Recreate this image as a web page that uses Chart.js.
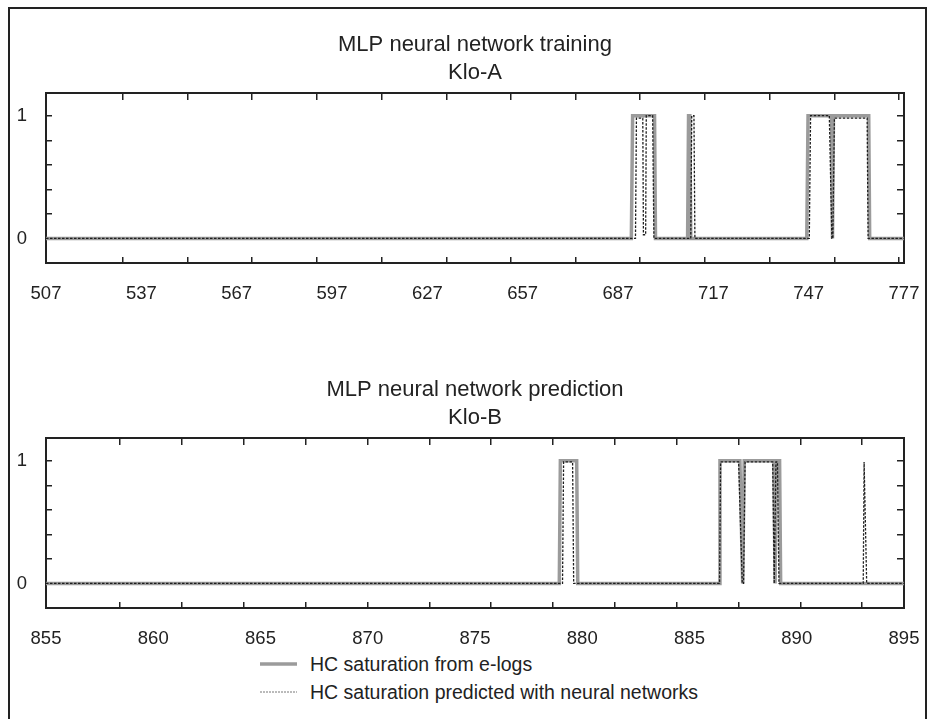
<!DOCTYPE html>
<html>
<head>
<meta charset="utf-8">
<script src="https://cdn.jsdelivr.net/npm/chart.js@4.4.1/dist/chart.umd.min.js"></script>
<style>
  html, body { margin: 0; padding: 0; background: #fff; }
  #wrap { position: relative; width: 936px; height: 719px; overflow: hidden; background: #fff; }
  #frame { position: absolute; left: 8px; top: 7px; width: 919px; height: 800px; border: 2px solid #222; box-sizing: border-box; }
  canvas { position: absolute; left: 0; }
  #c1 { top: 0; }
  #c2 { top: 345px; }
  .row { position: absolute; left: 260px; height: 28px; display: flex; align-items: center;
         font-family: 'Liberation Sans', Arial, Helvetica, sans-serif; font-size: 19.5px; color: #222; white-space: nowrap; }
  .row svg { margin-right: 13px; }
</style>
</head>
<body>
<div id="wrap">
  <div id="frame"></div>
  <canvas id="c1" width="936" height="300"></canvas>
  <canvas id="c2" width="936" height="300"></canvas>
  <div class="row" style="top:650px;">
    <svg width="37" height="6"><line x1="0" y1="3" x2="37" y2="3" stroke="#9b9b9b" stroke-width="3.5"/></svg>
    <span>HC saturation from e-logs</span>
  </div>
  <div class="row" style="top:678px;">
    <svg width="37" height="6"><line x1="0" y1="3" x2="37" y2="3" stroke="#777" stroke-width="1" stroke-dasharray="2,1"/></svg>
    <span>HC saturation predicted with neural networks</span>
  </div>
</div>
<script>
// ---------- data ----------
const legendLabels = ['HC saturation from e-logs', 'HC saturation predicted with neural networks'];

const titleTrain = ['MLP neural network training', 'Klo-A'];
const titlePred  = ['MLP neural network prediction', 'Klo-B'];

const yRange = [-0.2, 1.185];
const yLabelTicks = [0, 1];
const yMinorTicks = [0, 0.2, 0.4, 0.6, 0.8, 1];

// Training well (Klo-A)
const trainRange = [507, 777];
const trainXLabels = [507, 537, 567, 597, 627, 657, 687, 717, 747, 777];
const trainXTickMarks = [531.2, 551.6, 571.9, 592.3, 612.6, 633.0, 653.3, 673.7, 694.0, 714.4, 734.7, 755.1, 775.4];
const trainLogX = [507, 691.2, 691.6, 698.5, 698.8, 708.9, 709.2, 709.6, 709.9, 746.4, 746.8, 754.2, 754.5, 754.8, 765.9, 766.2, 777];
const trainLogY = [0, 0, 1, 1, 0, 0, 1, 1, 0, 0, 1, 1, 0, 1, 1, 0, 0];
const trainNnX = [507, 692.5, 692.8, 694.8, 695.0, 695.7, 695.9, 697.9, 698.3, 709.9, 710.2, 710.9, 711.2, 747.2, 747.6, 753.5, 754.3, 754.6, 755.1, 765.4, 765.7, 777];
const trainNnY = [0, 0, 0.98, 0.98, 0.03, 0.03, 1, 1, 0, 0, 1, 1, 0, 0, 1, 1, 0, 0, 0.98, 0.98, 0, 0];

// Prediction well (Klo-B)
const predRange = [855, 895];
const predXLabels = [855, 860, 865, 870, 875, 880, 885, 890, 895];
const predXTickMarks = [858.45, 861.33, 864.22, 867.10, 869.98, 872.87, 875.75, 878.63, 881.52, 884.40, 887.28, 890.17, 893.05];
const predLogX = [855, 878.93, 878.98, 879.74, 879.79, 886.39, 886.42, 887.35, 887.48, 887.55, 888.93, 888.99, 889.05, 889.20, 889.25, 895];
const predLogY = [0, 0, 1, 1, 0, 0, 1, 1, 0, 1, 1, 0, 1, 1, 0, 0];
const predNnX = [855, 879.08, 879.13, 879.55, 879.60, 886.40, 886.45, 887.29, 887.46, 887.52, 887.59, 888.88, 888.95, 889.03, 889.10, 889.17, 893.10, 893.14, 893.26, 895];
const predNnY = [0, 0, 0.99, 0.99, 0, 0, 0.99, 0.99, 0, 0, 0.99, 0.99, 0, 0.99, 0.99, 0, 0, 0.99, 0, 0];

// ---------- chart ----------
const FONT = "'Liberation Sans', Arial, Helvetica, sans-serif";
const INK = '#222';

function pts(xs, ys) { return xs.map((x, i) => ({ x: x, y: ys[i] })); }
function setTicks(arr) { return (s) => { s.ticks = arr.map(v => ({ value: v })); }; }

function makeChart(id, title, range, xLabels, xMarks, logX, logY, nnX, nnY) {
  const [xMin, xMax] = range;
  const [yMin, yMax] = yRange;
  const tickGrid = (len) => ({ display: true, drawOnChartArea: false, drawTicks: true, tickLength: len, color: INK, lineWidth: 1.5 });
  return new Chart(document.getElementById(id), {
    type: 'line',
    data: {
      datasets: [
        { label: legendLabels[1], data: pts(nnX, nnY), borderColor: '#1e1e1e', borderWidth: 1.3, borderDash: [2.5, 1.5],
          pointRadius: 0, tension: 0, fill: false, order: 0, xAxisID: 'x', yAxisID: 'y' },
        { label: legendLabels[0], data: pts(logX, logY), borderColor: '#9b9b9b', borderWidth: 3.5,
          pointRadius: 0, tension: 0, fill: false, order: 1, xAxisID: 'x', yAxisID: 'y' }
      ]
    },
    options: {
      responsive: false,
      animation: false,
      devicePixelRatio: 1,
      layout: { padding: { left: 0, right: 32, top: 0, bottom: 0 } },
      plugins: {
        legend: { display: false },
        tooltip: { enabled: false },
        title: {
          display: true, text: title, color: INK, fullSize: false,
          font: { family: FONT, size: 22, weight: 'normal', lineHeight: 28 / 22 },
          padding: { top: 31, bottom: 6 }
        }
      },
      scales: {
        x: {
          type: 'linear', axis: 'x', position: 'bottom', min: xMin, max: xMax,
          grid: { display: false },
          border: { display: true, color: INK, width: 2 },
          ticks: { color: INK, font: { family: FONT, size: 18.5 }, padding: 12, autoSkip: false, maxRotation: 0,
                   callback: (v) => String(v) },
          afterBuildTicks: setTicks(xLabels),
          afterFit: (s) => { s.height = 37; }
        },
        y: {
          type: 'linear', axis: 'y', position: 'left', min: yMin, max: yMax,
          grid: { display: false },
          border: { display: true, color: INK, width: 2 },
          ticks: { color: INK, font: { family: FONT, size: 18.5 }, padding: 11, callback: (v) => String(v) },
          afterBuildTicks: setTicks(yLabelTicks),
          afterFit: (s) => { s.width = 46; }
        },
        xTopMarks: {
          type: 'linear', axis: 'x', position: { y: yMax }, min: xMin, max: xMax,
          grid: tickGrid(6), border: { display: true, color: INK, width: 2 },
          ticks: { display: false }, afterBuildTicks: setTicks(xMarks)
        },
        xBottomMarks: {
          type: 'linear', axis: 'x', position: { y: yMin }, min: xMin, max: xMax,
          grid: tickGrid(-6), border: { display: false },
          ticks: { display: false }, afterBuildTicks: setTicks(xMarks)
        },
        yLeftMarks: {
          type: 'linear', axis: 'y', position: { x: xMin }, min: yMin, max: yMax,
          grid: tickGrid(-6), border: { display: false },
          ticks: { display: false }, afterBuildTicks: setTicks(yMinorTicks)
        },
        yRightMarks: {
          type: 'linear', axis: 'y', position: { x: xMax }, min: yMin, max: yMax,
          grid: tickGrid(6), border: { display: true, color: INK, width: 2 },
          ticks: { display: false }, afterBuildTicks: setTicks(yMinorTicks)
        }
      }
    }
  });
}

makeChart('c1', titleTrain, trainRange, trainXLabels, trainXTickMarks, trainLogX, trainLogY, trainNnX, trainNnY);
makeChart('c2', titlePred, predRange, predXLabels, predXTickMarks, predLogX, predLogY, predNnX, predNnY);
</script>
</body>
</html>
